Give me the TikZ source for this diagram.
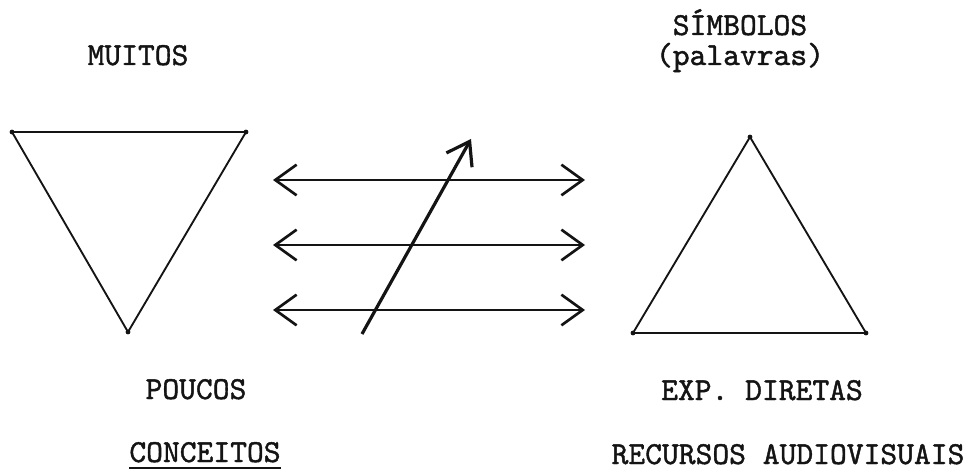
\documentclass[tikz,border=0pt]{standalone}
\usepackage{fontspec}
\newfontfamily\typefont{lmmono10-regular.otf}[FakeBold=1.3]
\usetikzlibrary{arrows.meta, positioning, calc}
\definecolor{inkblack}{RGB}{20, 20, 20}

\begin{document}
\begin{tikzpicture}[x=0.75pt, y=-0.75pt,
    label/.style={font=\typefont\fontsize{24}{28}\selectfont, text=inkblack, inner sep=0pt, anchor=base},
    triline/.style={draw=inkblack, line width=1.4pt, line join=miter},
    twoway/.style={draw=inkblack, line width=1.6pt,
        {Straight Barb[length=16pt, width=23pt, line width=2pt]}-{Straight Barb[length=16pt, width=23pt, line width=2pt]}},
    cross/.style={draw=inkblack, line width=2.4pt,
        -{Straight Barb[length=16pt, width=22pt, line width=2.4pt]}}]
    \useasboundingbox (0,0) rectangle (975,470);

    % left triangle (upside down)
    \coordinate (lt1) at (12,132);
    \coordinate (lt2) at (246,132);
    \coordinate (lt3) at (128,332);
    \draw[triline] (lt1) -- (lt2) -- (lt3) -- cycle;

    % right triangle
    \coordinate (rt1) at (750,137);
    \coordinate (rt2) at (866,333);
    \coordinate (rt3) at (633,333);
    \draw[triline] (rt1) -- (rt2) -- (rt3) -- cycle;
    \foreach \c in {lt1, lt2, lt3, rt1, rt2, rt3}
        \fill[inkblack] (\c) circle (1.8pt);

    % labels
    \node[label] (muitos) at (138,65) {MUITOS};
    \node[label] (simbolos) at (740,35) {SÍMBOLOS};
    \node[label] (palavras) at (740,65) {(palavras)};
    \node[label] (poucos) at (196,399) {POUCOS};
    \node[label] (conceitos) at (205,462) {CONCEITOS};
    \draw[inkblack, line width=0.9pt] ($(conceitos.base west)+(0,6)$) -- ($(conceitos.base east)+(0,6)$);
    \node[label] (exp) at (762,400) {EXP. DIRETAS};
    \node[label] (recursos) at (788,464) {RECURSOS AUDIOVISUAIS};

    % double arrows
    \foreach \y/\n in {180/a, 245/b, 310/c} {
        \coordinate (left\n) at (273,\y);
        \coordinate (right\n) at (585,\y);
        \draw[twoway] (left\n) -- (right\n);
    }

    % crossing arrow
    \coordinate (crossfrom) at (362,334);
    \coordinate (crossto) at (471,139);
    \draw[cross] (crossfrom) -- (crossto);
\end{tikzpicture}
\end{document}
